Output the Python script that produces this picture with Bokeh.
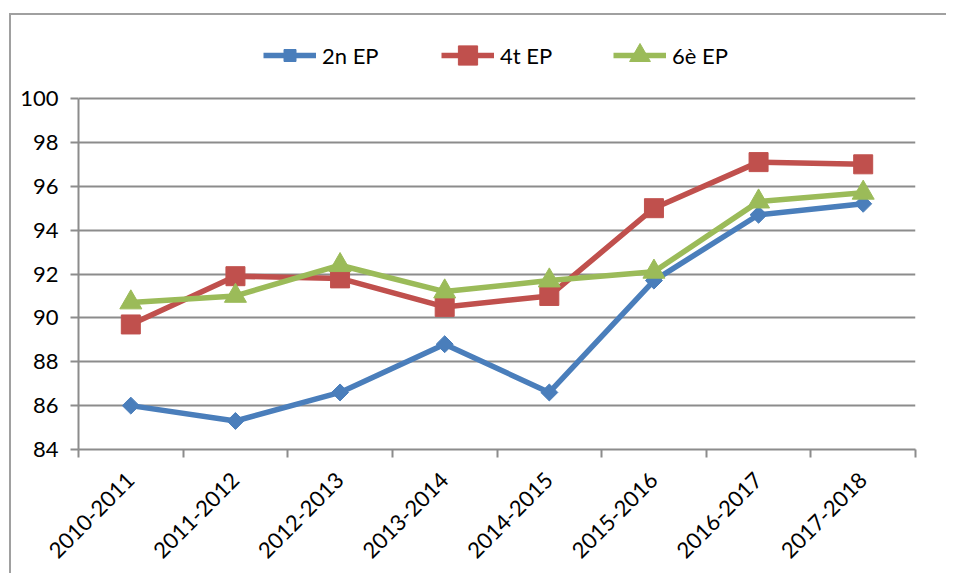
import math
from bokeh.plotting import figure
from bokeh.models import FixedTicker, Legend, LegendItem, Range1d
from bokeh.embed import file_html
from bokeh.resources import INLINE

categories = ["2010-2011", "2011-2012", "2012-2013", "2013-2014",
              "2014-2015", "2015-2016", "2016-2017", "2017-2018"]
ep2 = [86.0, 85.3, 86.6, 88.8, 86.6, 91.7, 94.7, 95.2]
ep4 = [89.7, 91.9, 91.8, 90.5, 91.0, 95.0, 97.1, 97.0]
ep6 = [90.7, 91.0, 92.4, 91.2, 91.7, 92.1, 95.3, 95.7]
series_names = ["2n EP", "4t EP", "6è EP"]
y_ticks = [84, 86, 88, 90, 92, 94, 96, 98, 100]

FONT = "Lato"
GRID = "#8c8c8c"

# page geometry (pixels)
ox, oy = 11, 15                      # canvas origin on the page
f_left, f_right, f_top100, f_bottom = 78, 915, 98, 449
W, H = 937, 560

n = len(categories)
xc = [i + 0.5 for i in range(n)]
bounds = [i for i in range(n + 1)]

y0, y1 = y_ticks[0], y_ticks[-1]
y_end = y0 + (y1 - y0) * (f_bottom - oy) / (f_bottom - f_top100)

p = figure(width=W, height=H, output_backend="svg", toolbar_location=None,
           x_range=Range1d(0, n), y_range=Range1d(y0, y_end),
           min_border_left=f_left - ox, min_border_right=W - (f_right - ox),
           min_border_top=0, min_border_bottom=H - (f_bottom - oy))
p.margin = (oy, 0, 0, ox)
p.styles = {"box-shadow": "-2px -2px 0px 0px #a0a0a0"}
p.outline_line_color = None
p.background_fill_color = "white"
p.border_fill_color = "white"

# axes
p.xaxis.ticker = FixedTicker(ticks=xc, minor_ticks=bounds)
p.xaxis.major_label_overrides = {x: c for x, c in zip(xc, categories)}
p.xaxis.major_tick_out = 0
p.xaxis.major_tick_in = 0
p.xaxis.minor_tick_out = 8
p.xaxis.minor_tick_in = 0
p.xaxis.minor_tick_line_color = GRID
p.xaxis.minor_tick_line_width = 2
p.xaxis.major_label_orientation = math.pi / 4
p.xaxis.major_label_standoff = 19

p.yaxis.ticker = FixedTicker(ticks=y_ticks, minor_ticks=[])
p.yaxis.bounds = (y0, y1)
p.yaxis.major_tick_out = 8
p.yaxis.major_tick_in = 0
p.yaxis.major_tick_line_color = GRID
p.yaxis.major_tick_line_width = 2
p.yaxis.major_label_standoff = 12

for ax in (p.xaxis, p.yaxis):
    ax.axis_line_color = GRID
    ax.axis_line_width = 2
    ax.major_label_text_font = FONT
    ax.major_label_text_font_size = "22px"
    ax.major_label_text_color = "black"

p.xgrid.grid_line_color = None
p.ygrid.grid_line_color = GRID
p.ygrid.grid_line_width = 2
p.ygrid.ticker = FixedTicker(ticks=y_ticks)

styles = [
    ("#4a7ebb", "square", 12, math.pi / 4, ep2, 30),
    ("#c0504d", "square", 19, 0, ep4, 48),
    ("#9bbb59", "triangle", 22, 0, ep6, 52),
]

legend_x = [263, 441, 613]
legend_cy = 55

for (color, marker, size, angle, vals, gh), name, lx in zip(styles, series_names, legend_x):
    ln = p.line(xc, vals, line_color=color, line_width=5.5, line_join="round")
    sc = p.scatter(xc, vals, marker=marker, size=size, angle=angle,
                   fill_color=color, line_color=color)
    lg = Legend(items=[LegendItem(label=name, renderers=[ln, sc])],
                location=(lx - f_left, f_bottom - (legend_cy + gh / 2)),
                orientation="horizontal", padding=0, margin=0, spacing=0,
                glyph_width=53, glyph_height=gh, label_height=gh,
                label_standoff=6, border_line_color=None,
                background_fill_alpha=0,
                label_text_font=FONT, label_text_font_size="22px",
                label_text_color="black")
    p.add_layout(lg, "center")

open("out.html", "w").write(file_html(p, INLINE))
